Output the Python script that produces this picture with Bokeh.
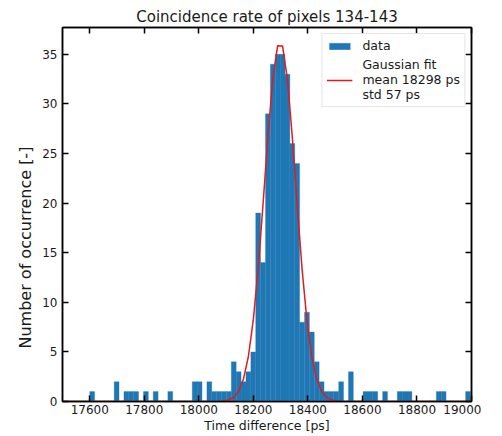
import numpy as np
from bokeh.plotting import figure
from bokeh.models import (LinearAxis, Legend, LegendItem, FixedTicker, Range1d,
                          CustomLabelingPolicy)
from bokeh.embed import file_html
from bokeh.resources import INLINE

# histogram data
bin_start = 17600.0
bin_width = 17.9
counts = [1, 0, 0, 0, 0, 2, 0, 1, 1, 1,
          0, 1, 0, 1, 0, 0, 1, 0, 0, 0,
          0, 2, 2, 0, 2, 1, 1, 1, 1, 4,
          3, 2, 3, 5, 19, 14, 29, 34, 35, 35,
          33, 26, 24, 8, 9, 7, 4, 2, 1, 1,
          1, 2, 0, 3, 0, 0, 1, 1, 1, 0,
          1, 0, 0, 1, 1, 1, 0, 0, 0, 0,
          0, 1, 1, 0, 0, 0, 0, 1]
# gaussian fit parameters
fit_mean = 18298.0
fit_std = 57.0
fit_amp = 36.3

x_ticks = [17600, 17800, 18000, 18200, 18400, 18600, 18800, 19000]
y_ticks = [0, 5, 10, 15, 20, 25, 30, 35]

edges = bin_start + bin_width * np.arange(len(counts) + 1)
centers_ext = bin_start + bin_width * (np.arange(-8, len(counts) + 8) + 0.5)
fit_y = fit_amp * np.exp(-(centers_ext - fit_mean) ** 2 / (2 * fit_std ** 2))

FONT = "DejaVu Sans"
TXT = "#1a1a1a"

p = figure(frame_width=409, frame_height=374, output_backend="svg",
           toolbar_location=None, x_range=Range1d(17500, 19000),
           y_range=Range1d(0, 37.7), min_border_left=62, min_border_right=10,
           min_border_top=27, min_border_bottom=10,
           title="Coincidence rate of pixels 134-143")
p.title.text_font = FONT
p.title.text_font_size = "15px"
p.title.text_font_style = "normal"
p.title.align = "center"
p.title.text_color = TXT
p.title.standoff = 3

p.xgrid.visible = False
p.ygrid.visible = False
p.background_fill_color = "white"
p.outline_line_color = "black"
p.outline_line_width = 1.5

bars = p.quad(left=edges[:-1], right=edges[1:], bottom=0, top=counts,
              fill_color="#1f77b4", line_color="#1f77b4", line_width=0.3)
fit = p.line(centers_ext, fit_y, line_color="#e41a1c", line_width=1.5)

no_labels = CustomLabelingPolicy(code="""
for (const i of indices)
    indices.unset(i)
return indices
""")

def style_axis(ax, show_labels):
    ax.major_tick_in = 6
    ax.major_tick_out = 0
    ax.minor_tick_in = 0
    ax.minor_tick_out = 0
    ax.major_tick_line_width = 1.5
    ax.major_tick_line_color = "black"
    ax.axis_line_color = "black"
    ax.axis_line_width = 1.5
    ax.major_label_text_font = FONT
    ax.major_label_text_font_size = "12px"
    ax.major_label_text_color = TXT
    ax.major_label_standoff = 4
    if not show_labels:
        ax.major_label_policy = no_labels
        ax.major_label_text_font_size = "0px"
        ax.major_label_standoff = 0
    ax.axis_label_text_font = FONT
    ax.axis_label_text_font_size = "12.5px"
    ax.axis_label_text_font_style = "normal"
    ax.axis_label_text_color = TXT

xa = p.xaxis[0]
xa.ticker = FixedTicker(ticks=x_ticks)
xa.axis_label = "Time difference [ps]"
style_axis(xa, True)
xa.major_label_standoff = 3
xa.axis_label_standoff = 1

ya = p.yaxis[0]
ya.ticker = FixedTicker(ticks=y_ticks)
# label sits below the frame's centre in the reference: pad its end with no-break spaces
ya.axis_label = "Number of occurrence [-]" + "\u00a0" * 13
style_axis(ya, True)
ya.major_label_standoff = 5
ya.axis_label_text_font_size = "16px"
ya.axis_label_standoff = 4

top_ax = LinearAxis(ticker=FixedTicker(ticks=x_ticks))
style_axis(top_ax, False)
p.add_layout(top_ax, "above")
right_ax = LinearAxis(ticker=FixedTicker(ticks=y_ticks))
style_axis(right_ax, False)
p.add_layout(right_ax, "right")

legend = Legend(items=[LegendItem(label="data", renderers=[bars]),
                       LegendItem(label="Gaussian fit\nmean 18298 ps\nstd 57 ps", renderers=[fit])],
                location="top_right")
legend.label_text_font = FONT
legend.label_text_font_size = "12.5px"
legend.label_text_color = TXT
legend.border_line_color = "#cccccc"
legend.border_line_width = 1
legend.background_fill_alpha = 0.9
legend.glyph_width = 26
legend.glyph_height = 8
legend.margin = 6
legend.padding = 4
legend.spacing = 4
legend.label_standoff = 10
p.add_layout(legend, "center")

open("out.html", "w").write(file_html(p, INLINE))
